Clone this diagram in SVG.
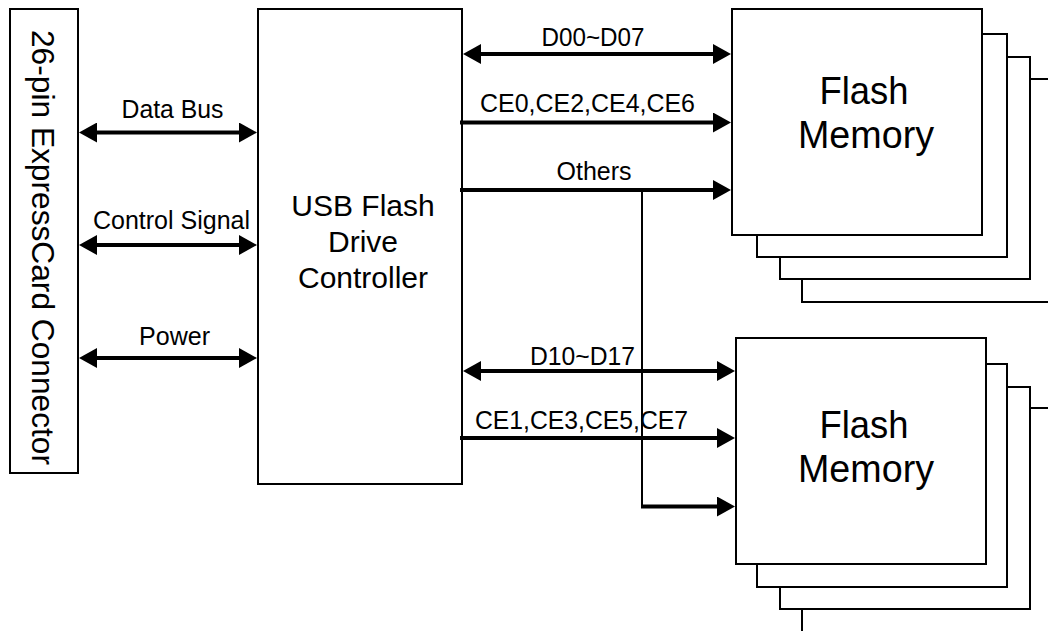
<svg xmlns="http://www.w3.org/2000/svg" width="1048" height="631" viewBox="0 0 1048 631">
  <style>
    .box { fill: #fff; stroke: #000; stroke-width: 2; }
    .t { font-family: "Liberation Sans", Arial, sans-serif; fill: #000; text-anchor: middle; }
    .lbl { font-size: 25px; }
    .big { font-size: 30px; }
    .mem { font-size: 39px; }
    .bus { fill: none; stroke: #000; stroke-width: 4; }
    .thin { fill: none; stroke: #000; stroke-width: 2; }
  </style>
  <defs>
    <marker id="ah" viewBox="0 0 18 20" markerWidth="18" markerHeight="20" markerUnits="userSpaceOnUse" refX="0" refY="10" orient="auto-start-reverse">
      <path d="M0,0 L18,10 L0,20 z" fill="#000"/>
    </marker>
  </defs>

  <g id="connector">
    <rect class="box" x="10" y="9" width="68" height="464"/>
    <text class="t" font-size="31" textLength="435" lengthAdjust="spacingAndGlyphs" transform="translate(32,247.5) rotate(90)">26-pin ExpressCard Connector</text>
  </g>

  <g id="controller">
    <rect class="box" x="258" y="9" width="204" height="475"/>
    <text class="t big" x="363" y="216">USB Flash</text>
    <text class="t big" x="363" y="252">Drive</text>
    <text class="t big" x="363" y="288">Controller</text>
  </g>

  <g id="flash1">
    <rect class="box" x="802" y="79" width="250" height="223"/>
    <rect class="box" x="780" y="57" width="250" height="222"/>
    <rect class="box" x="757" y="34" width="250" height="223"/>
    <rect class="box" x="732" y="9" width="250" height="226"/>
    <text class="t mem" x="864" y="104" textLength="89" lengthAdjust="spacingAndGlyphs">Flash</text>
    <text class="t mem" x="866" y="148" textLength="136" lengthAdjust="spacingAndGlyphs">Memory</text>
  </g>

  <g id="flash2">
    <rect class="box" x="802" y="408" width="250" height="230"/>
    <rect class="box" x="780" y="387" width="250" height="222"/>
    <rect class="box" x="757" y="364" width="250" height="223"/>
    <rect class="box" x="736" y="338" width="250" height="226"/>
    <text class="t mem" x="864" y="438" textLength="89" lengthAdjust="spacingAndGlyphs">Flash</text>
    <text class="t mem" x="866" y="482" textLength="136" lengthAdjust="spacingAndGlyphs">Memory</text>
  </g>

  <g id="connectors">
    <line class="bus" x1="97" y1="132.5" x2="239" y2="132.5" marker-start="url(#ah)" marker-end="url(#ah)"/>
    <line class="bus" x1="97" y1="245" x2="239" y2="245" marker-start="url(#ah)" marker-end="url(#ah)"/>
    <line class="bus" x1="97" y1="358" x2="239" y2="358" marker-start="url(#ah)" marker-end="url(#ah)"/>

    <line class="bus" x1="481" y1="54" x2="713" y2="54" marker-start="url(#ah)" marker-end="url(#ah)"/>
    <line class="bus" x1="460" y1="122.5" x2="713" y2="122.5" marker-end="url(#ah)"/>
    <line class="bus" x1="460" y1="190" x2="713" y2="190" marker-end="url(#ah)"/>

    <line class="bus" x1="481" y1="371" x2="717" y2="371" marker-start="url(#ah)" marker-end="url(#ah)"/>
    <line class="bus" x1="460" y1="438" x2="717" y2="438" marker-end="url(#ah)"/>

    <line class="thin" x1="642" y1="190" x2="642" y2="507"/>
    <line class="bus" x1="641" y1="506.5" x2="717" y2="506.5" marker-end="url(#ah)"/>

    <text class="t lbl" x="172.5" y="117.5" textLength="102" lengthAdjust="spacingAndGlyphs">Data Bus</text>
    <text class="t lbl" x="171.5" y="229" textLength="157" lengthAdjust="spacingAndGlyphs">Control Signal</text>
    <text class="t lbl" x="174.5" y="345" textLength="71" lengthAdjust="spacingAndGlyphs">Power</text>
    <text class="t lbl" x="593" y="46" textLength="103" lengthAdjust="spacingAndGlyphs">D00~D07</text>
    <text class="t lbl" x="587.5" y="112" textLength="215" lengthAdjust="spacingAndGlyphs">CE0,CE2,CE4,CE6</text>
    <text class="t lbl" x="594" y="180" textLength="75" lengthAdjust="spacingAndGlyphs">Others</text>
    <text class="t lbl" x="582.5" y="365" textLength="105" lengthAdjust="spacingAndGlyphs">D10~D17</text>
    <text class="t lbl" x="581.5" y="429" textLength="213" lengthAdjust="spacingAndGlyphs">CE1,CE3,CE5,CE7</text>
  </g>
</svg>
